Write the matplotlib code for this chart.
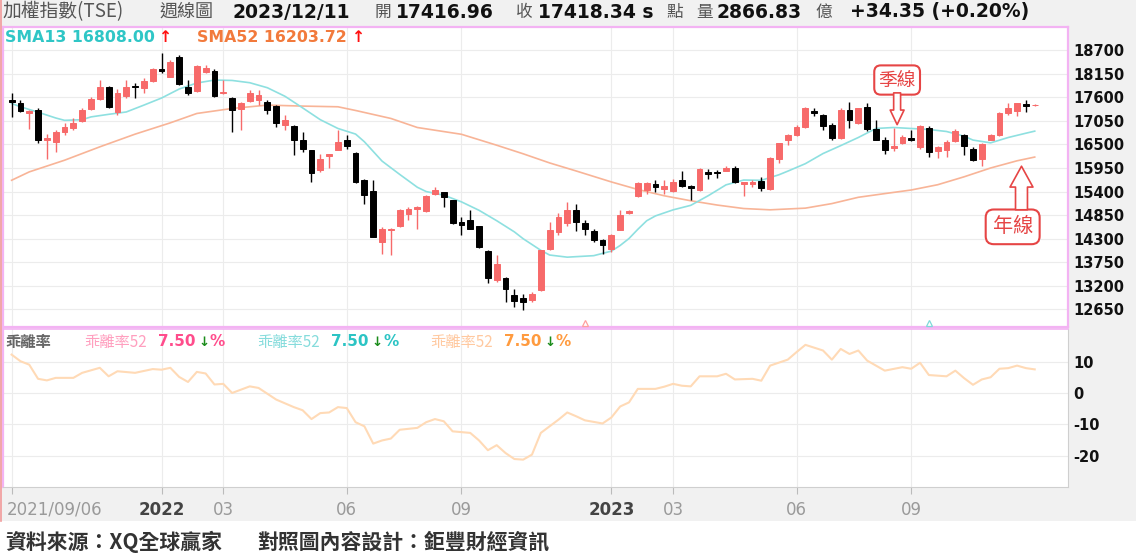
import numpy as np
import matplotlib
matplotlib.use("Agg")
import matplotlib.pyplot as plt
from matplotlib.patches import FancyArrowPatch, Rectangle, ArrowStyle
from matplotlib.lines import Line2D
from matplotlib.transforms import ScaledTranslation

W, H, DPI = 1136, 558, 100

# ---------------- data (weekly candles, 2021/09/06 .. 2023/12/11) ----------------
opens = [17532, 17470, 17236, 17299, 16598, 16559, 16793, 16870, 17042, 17314,
         17548, 17844, 17260, 17626, 17859, 17805, 17984, 18249, 18077, 18529,
         17828, 17750, 18194, 18210, 17688, 17571, 17314, 17509, 17532, 17493,
         17400, 16948, 16925, 16613, 16364, 15897, 16224, 16380, 16598, 16302,
         15664, 15414, 14223, 14495, 14589, 14885, 15002, 14947, 15336, 15391,
         15196, 14690, 14729, 14589, 14013, 13327, 13390, 12977, 12922, 12876,
         13094, 14067, 14456, 14667, 14963, 14667, 14480, 14277, 14067, 14511,
         14900, 15290, 15430, 15585, 15469, 15414, 15664, 15523, 15430, 15858,
         15858, 15881, 15959, 15585, 15585, 15648, 15469, 16170, 16598, 16715,
         16909, 17283, 17182, 16948, 16637, 17299, 16987, 17361, 16847, 16613,
         16420, 16520, 16637, 16442, 16893, 16349, 16380, 16582, 16715, 16403,
         16147, 16613, 16715, 17221, 17283, 17450, 17416.96]
highs = [17700, 17532, 17290, 17338, 16753, 16831, 16987, 17104, 17338, 17610,
         18000, 17860, 17782, 18000, 17922, 18038, 18272, 18638, 18467, 18584,
         18000, 18350, 18350, 18249, 18000, 17595, 17493, 17766, 17766, 17532,
         17415, 17182, 16948, 16793, 16380, 16286, 16280, 16831, 16715, 16320,
         15702, 15664, 14573, 14550, 15002, 15041, 15055, 15313, 15508, 15400,
         15212, 14807, 14963, 14600, 14028, 13911, 13405, 13133, 13016, 13055,
         14044, 14690, 14900, 15157, 15118, 14729, 14534, 14301, 14418, 14963,
         14963, 15625, 15625, 15679, 15664, 15702, 15881, 15547, 15952, 15936,
         15897, 15991, 15991, 15630, 15664, 15741, 16209, 16536, 16753, 16948,
         17361, 17338, 17205, 16987, 17338, 17493, 17350, 17470, 17065, 16676,
         16870, 16715, 16831, 16948, 16925, 16458, 16613, 16847, 16753, 16442,
         16536, 16753, 17260, 17454, 17470, 17532, 17440]
lows = [17143, 17260, 16847, 16520, 16170, 16325, 16715, 16831, 17026, 17299,
        17532, 17338, 17182, 17571, 17571, 17688, 17961, 18155, 18062, 17883,
        17649, 17727, 18155, 17595, 17680, 16777, 16831, 17493, 17415, 17205,
        16909, 16831, 16247, 16325, 15624, 15858, 15959, 16364, 16403, 15610,
        15118, 14330, 13950, 13911, 14573, 14729, 14534, 14924, 15313, 15041,
        14651, 14378, 14520, 14090, 13265, 13288, 12821, 12704, 12642, 12821,
        13078, 14044, 14378, 14589, 14480, 14378, 14223, 13950, 13989, 14495,
        14885, 15274, 15352, 15391, 15336, 15391, 15508, 15196, 15414, 15702,
        15726, 15870, 15601, 15290, 15508, 15414, 15445, 16068, 16481, 16700,
        16893, 17159, 16831, 16598, 16620, 16870, 16970, 16816, 16598, 16271,
        16350, 16505, 16582, 16403, 16208, 16193, 16208, 16559, 16247, 16115,
        15991, 16598, 16691, 17182, 17159, 17260, 17395]
closes = [17485, 17283, 17283, 16598, 16652, 16793, 16894, 17003, 17299, 17548,
          17844, 17377, 17704, 17844, 17828, 17984, 18249, 18202, 18428, 17898,
          17688, 18327, 18272, 17626, 17727, 17299, 17454, 17688, 17649, 17299,
          17003, 17065, 16598, 16403, 15835, 16170, 16271, 16559, 16458, 15624,
          15313, 14340, 14534, 14534, 14963, 15002, 15041, 15290, 15430, 15274,
          14667, 14612, 14534, 14106, 13390, 13717, 13133, 12844, 12821, 13016,
          14028, 14511, 14807, 14963, 14690, 14534, 14277, 14145, 14378, 14846,
          14947, 15601, 15601, 15508, 15523, 15624, 15523, 15492, 15936, 15819,
          15835, 15959, 15624, 15624, 15624, 15492, 16193, 16520, 16715, 16909,
          17338, 17236, 16925, 16637, 17299, 17065, 17338, 16847, 16613, 16380,
          16460, 16660, 16598, 16925, 16325, 16427, 16559, 16816, 16458, 16131,
          16504, 16715, 17236, 17338, 17454, 17384, 17418.34]

# moving averages (week index, value)
sma13_weeks = [0, 1, 3, 5, 6, 8, 9, 11, 13, 15, 17, 19, 21, 23, 25, 27, 29, 31, 33, 35,
               37, 39, 40, 42, 44, 46, 47, 49, 51, 53, 55, 57, 58, 60, 61, 63, 66, 68, 69, 70,
               71, 72, 73, 75, 77, 79, 81, 83, 85, 87, 88, 90, 92, 94, 96, 98, 100, 102, 104, 106,
               108, 109, 111, 113, 115, 116]
sma13_vals = [17454, 17376, 17250, 17115, 17060, 17075, 17140, 17200, 17255, 17415,
              17580, 17790, 17930, 17999, 17990, 17937, 17820, 17620, 17350, 17075,
              16870, 16740, 16560, 16110, 15800, 15500, 15400, 15315, 15160, 14962,
              14720, 14460, 14300, 14030, 13920, 13870, 13905, 14011, 14143, 14305,
              14519, 14718, 14832, 14973, 15078, 15305, 15556, 15668, 15662, 15791,
              15875, 16050, 16286, 16470, 16660, 16870, 16893, 16870, 16847, 16800,
              16690, 16600, 16535, 16660, 16760, 16808]
sma52_weeks = [0, 2, 6, 10, 14, 18, 21, 25, 29, 33, 37, 39, 43, 46, 51, 55, 58, 61, 64, 68,
               71, 74, 77, 80, 83, 86, 90, 93, 96, 99, 102, 105, 108, 111, 114, 116]
sma52_vals = [15663, 15858, 16130, 16442, 16738, 17002, 17220, 17337, 17415, 17392,
              17376, 17290, 17104, 16893, 16735, 16480, 16280, 16067, 15880, 15624,
              15448, 15301, 15185, 15085, 15004, 14974, 15013, 15119, 15266, 15352,
              15436, 15559, 15744, 15949, 16117, 16204]

# 乖離率 (%)
dev_weeks = [0, 1, 2, 3, 4, 5, 7, 8, 10, 11, 12, 14, 16, 17, 18, 19, 20, 21, 22, 23,
             24, 25, 27, 28, 30, 32, 33, 34, 35, 36, 37, 38, 39, 40, 41, 42, 43, 44, 46, 47,
             48, 49, 50, 52, 53, 54, 55, 56, 57, 58, 59, 60, 62, 63, 64, 65, 67, 68, 69, 70,
             71, 73, 74, 75, 76, 77, 78, 80, 81, 82, 84, 85, 86, 88, 89, 90, 92, 93, 94, 95,
             96, 97, 99, 101, 102, 103, 104, 106, 107, 108, 109, 110, 111, 112, 113, 114, 115, 116]
dev_vals = [12.2, 10.1, 9.0, 4.5, 4.0, 4.8, 4.8, 6.4, 8.0, 5.3, 6.9, 6.4, 7.6, 7.4, 8.0, 5.1,
            3.5, 6.7, 6.2, 2.7, 2.9, 0.0, 2.1, 1.6, -2.1, -4.5, -5.5, -8.3, -6.4, -6.2, -4.5,
            -4.8, -9.3, -10.6, -16.1, -15.1, -14.5, -11.7, -11.1, -9.3, -8.3, -9.0, -12.2,
            -12.7, -15.1, -18.2, -16.6, -19.1, -21.0, -21.2, -19.6, -12.7, -8.5, -6.2, -7.4,
            -8.7, -9.7, -7.8, -4.3, -3.0, 1.3, 1.3, 2.0, 2.9, 2.3, 2.1, 5.3, 5.3, 6.1, 4.3,
            4.5, 3.9, 8.7, 10.6, 13.0, 15.3, 13.5, 10.6, 14.0, 12.4, 13.5, 10.3, 7.1, 8.2,
            7.7, 9.6, 5.7, 5.3, 7.1, 4.7, 2.6, 4.3, 5.0, 7.7, 7.9, 8.7, 7.9, 7.5]

price_ticks = [12650, 13200, 13750, 14300, 14850, 15400, 15950, 16500, 17050, 17600, 18150, 18700]
dev_ticks = [10, 0, -10, -20]
tick_weeks = [0, 17, 24, 38, 51, 68, 75, 89, 102]
tick_labels = ['2021/09/06', '2022', '03', '06', '09', '2023', '03', '06', '09']
year_labels = ['2022', '2023']
signal_weeks = [65, 104]
signal_colors = ['#ff9f9f', '#7ed9d9']

# ---------------- styling ----------------
RED = '#f76a6a'
BLACK = '#000000'
CYAN_LINE = '#8ee0e0'
ORANGE_LINE = '#f8b497'
DEV_LINE = '#ffdab6'
PINK_BORDER = '#f3b3f3'
GRID = '#ececec'
BG = '#f1f1f1'
CJK = ['Noto Sans CJK TC', 'DejaVu Sans']

plt.rcParams['font.family'] = ['DejaVu Sans', 'Noto Sans CJK TC']

fig = plt.figure(figsize=(W / DPI, H / DPI), dpi=DPI)
fig.patch.set_facecolor(BG)
fig.add_artist(Rectangle((0, 0), 1, (H - 521) / H, transform=fig.transFigure,
                         facecolor='white', edgecolor='none', zorder=0))


def rect(x0, y0, x1, y1):
    return [x0 / W, 1 - y1 / H, (x1 - x0) / W, (y1 - y0) / H]


def ftext(x, y, s, **kw):
    kw.setdefault('va', 'center')
    kw.setdefault('ha', 'left')
    return fig.text(x / W, 1 - y / H, s, **kw)


PX_PER_WEEK = 8.82
X0 = 11.6
xl = ((2.5 - X0) / PX_PER_WEEK, (1068 - X0) / PX_PER_WEEK)

ax1 = fig.add_axes(rect(2.5, 27, 1068, 327))
ax2 = fig.add_axes(rect(2.5, 328.5, 1068, 487))

weeks = np.arange(len(closes))
O = np.array(opens, float)
C = np.array(closes, float)
Hh = np.array(highs, float)
Ll = np.array(lows, float)
up = C >= O
cols = [RED if u else BLACK for u in up]

# ---- main panel ----
ax1.set_facecolor('white')
ax1.set_xlim(*xl)
ax1.set_ylim(12242, 19236)
for p in price_ticks:
    ax1.axhline(p, color=GRID, lw=0.8, zorder=0)
for w in tick_weeks:
    ax1.axvline(w, color=GRID, lw=0.8, zorder=0)

ax1.plot(sma52_weeks, sma52_vals, color=ORANGE_LINE, lw=1.2, zorder=2)
ax1.plot(sma13_weeks, sma13_vals, color=CYAN_LINE, lw=1.2, zorder=2)

ax1.vlines(weeks, Ll, Hh, colors=cols, lw=1.0, zorder=3)
ax1.bar(weeks, np.abs(C - O), bottom=np.minimum(O, C), width=0.66, color=cols,
        edgecolor=cols, lw=0.7, zorder=4)

for w, c in zip(signal_weeks, signal_colors):
    ax1.plot([w], [12330], marker='^', ms=5, mfc='white', mec=c, mew=0.9, zorder=5, clip_on=False)

ax1.yaxis.tick_right()
ax1.set_yticks(price_ticks)
ax1.set_yticklabels([str(p) for p in price_ticks])
ax1.tick_params(axis='y', length=0, pad=4, labelsize=10.5, labelcolor='#111111')
for lab in ax1.get_yticklabels():
    lab.set_fontweight('bold')
ax1.set_xticks([])
for s in ax1.spines.values():
    s.set_color(PINK_BORDER)
    s.set_linewidth(1.6)

# annotations
ax1.text(100.4, 18000, '季線', family=CJK, fontsize=13.5, color='#e64545', ha='center', va='center',
         zorder=7, bbox=dict(boxstyle='round,pad=0.22,rounding_size=0.35', fc='white', ec='#e64545', lw=1.5))
ax1.add_patch(FancyArrowPatch((100.4, 17700), (100.4, 16960),
                              arrowstyle=ArrowStyle.Simple(head_length=10.5, head_width=10, tail_width=5),
                              fc='white', ec='#e64545', lw=1.2, shrinkA=0, shrinkB=0, zorder=7))
ax1.text(113.5, 14577, '年線', family=CJK, fontsize=14.5, color='#e64545', ha='center', va='center',
         zorder=7, bbox=dict(boxstyle='round,pad=0.34,rounding_size=0.4', fc='white', ec='#e64545', lw=1.5))
ax1.add_patch(FancyArrowPatch((114.5, 14975), (114.5, 15990),
                              arrowstyle=ArrowStyle.Simple(head_length=15, head_width=16.5, tail_width=8.6),
                              fc='white', ec='#e64545', lw=1.2, shrinkA=0, shrinkB=0, zorder=7))

# ---- lower panel ----
ax2.set_facecolor('white')
ax2.set_xlim(*xl)
ax2.set_ylim(-29.9, 20.5)
for v in dev_ticks:
    ax2.axhline(v, color=GRID, lw=0.8, zorder=0)
for w in tick_weeks:
    ax2.axvline(w, color=GRID, lw=0.8, zorder=0)
ax2.plot(dev_weeks, dev_vals, color=DEV_LINE, lw=1.5, zorder=3)
ax2.yaxis.tick_right()
ax2.set_yticks(dev_ticks)
ax2.set_yticklabels([str(v) for v in dev_ticks])
ax2.tick_params(axis='y', length=0, pad=4, labelsize=10.5, labelcolor='#111111')
for lab in ax2.get_yticklabels():
    lab.set_fontweight('bold')
ax2.set_xticks(tick_weeks)
ax2.set_xticklabels(tick_labels)
ax2.tick_params(axis='x', length=5, width=0.8, color='#bbbbbb', pad=5, labelsize=12, labelcolor='#9a9a9a')
for lab in ax2.get_xticklabels():
    if lab.get_text() in year_labels:
        lab.set_fontweight('bold')
        lab.set_color('#444444')
first = ax2.get_xticklabels()[0]
first.set_ha('left')
first.set_transform(first.get_transform() + ScaledTranslation(-5 / DPI, 0, fig.dpi_scale_trans))
ax2.spines['top'].set_color(PINK_BORDER)
ax2.spines['top'].set_linewidth(1.2)
ax2.spines['left'].set_color(PINK_BORDER)
ax2.spines['left'].set_linewidth(1.6)
ax2.spines['right'].set_color('#cfcfcf')
ax2.spines['bottom'].set_color('#cfcfcf')

# page edge line on the far left
fig.add_artist(Line2D([1.2 / W, 1.2 / W], [1 - 521 / H, 1], transform=fig.transFigure,
                      color='#f29a9a', lw=1.2))

# ---- header ----
GRAY_T = '#555555'
ftext(2, 12, '加權指數(TSE)', family=CJK, fontsize=13.5, color=GRAY_T)
ftext(160, 12, '週線圖', family=CJK, fontsize=13, color=GRAY_T)
ftext(232, 12, '2023/12/11', fontsize=13.5, fontweight='bold', color='#111111')
ftext(375, 12, '開', family=CJK, fontsize=12, color=GRAY_T)
ftext(396, 12, '17416.96', fontsize=13.5, fontweight='bold', color='#111111')
ftext(516, 12, '收', family=CJK, fontsize=12, color=GRAY_T)
ftext(538, 12, '17418.34 s', fontsize=13.5, fontweight='bold', color='#111111')
ftext(666, 12, '點', family=CJK, fontsize=12, color=GRAY_T)
ftext(696, 12, '量', family=CJK, fontsize=12, color=GRAY_T)
ftext(716, 12, '2866.83', fontsize=13.5, fontweight='bold', color='#111111')
ftext(815, 12, '億', family=CJK, fontsize=12, color=GRAY_T)
ftext(850, 12, '+34.35 (+0.20%)', fontsize=13.5, fontweight='bold', color='#111111')

# ---- SMA legend ----
ftext(5, 37, 'SMA13 16808.00', fontsize=11.3, fontweight='bold', color='#2fc6c6')
ftext(159, 37, '↑', fontsize=11.3, fontweight='bold', color='#ff1010')
ftext(197, 37, 'SMA52 16203.72', fontsize=11.3, fontweight='bold', color='#f27a3c')
ftext(352, 37, '↑', fontsize=11.3, fontweight='bold', color='#ff1010')

# ---- deviation legend ----
ftext(5, 342, '乖離率', family=CJK, fontsize=11, fontweight='bold', color='#666666')
groups = [(84, '#ff9fbf', '#ff4d8c'), (257, '#86dcdc', '#2cc4c4'), (430, '#ffc9a0', '#ff9b3f')]
for x, c_lab, c_val in groups:
    ftext(x, 342, '乖離率52', family=CJK, fontsize=11, color=c_lab)
    ftext(x + 74, 342, '7.50', fontsize=11, fontweight='bold', color=c_val)
    ftext(x + 114, 342, '↓', fontsize=9.5, fontweight='bold', color='#1a8c1a')
    ftext(x + 126, 342, '%', fontsize=11, fontweight='bold', color=c_val)

# ---- footer ----
ftext(5, 542, '資料來源：XQ全球贏家', family=CJK, fontsize=15, fontweight='bold', color='#333333')
ftext(257, 542, '對照圖內容設計：鉅豐財經資訊', family=CJK, fontsize=15, fontweight='bold', color='#333333')

fig.savefig('out.png', dpi=DPI, facecolor=fig.get_facecolor())
